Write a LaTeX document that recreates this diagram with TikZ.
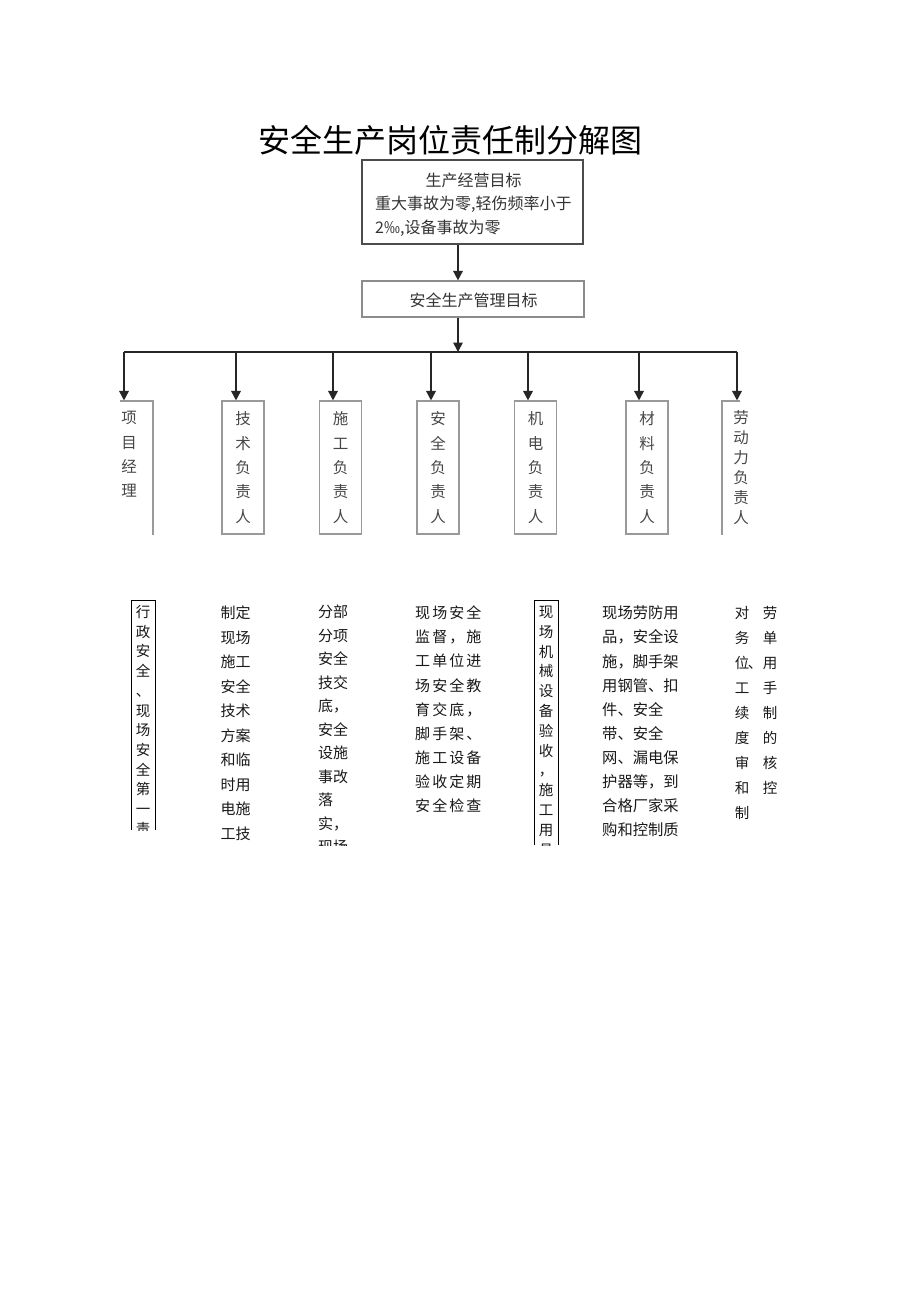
\documentclass[tikz,border=0pt]{standalone}
\usepackage{fontspec}
\newfontfamily\cjk{Noto Sans CJK SC}
\newfontfamily\cjkw[LetterSpace=14]{Noto Sans CJK SC}
\usetikzlibrary{arrows.meta}
\begin{document}
\begin{tikzpicture}[x=1pt,y=-1pt,
  arr/.style={-{Triangle[width=9.5pt,length=9.5pt]}, line width=1.6pt, draw=black!85},
  busline/.style={line width=1.6pt, draw=black!85},
  topbox/.style={draw=black!70, line width=1.4pt, minimum width=221pt, minimum height=84pt, inner sep=0pt},
  midbox/.style={draw=black!45, line width=1.2pt, minimum width=222pt, minimum height=36pt, inner sep=0pt},
  rbox/.style={draw=black!40, line width=1.1pt, minimum width=42pt, minimum height=133pt, inner sep=0pt, align=center,
     font=\cjk\fontsize{15.5}{24.3}\selectfont, text=black!72},
  gline/.style={draw=black!40, line width=1.1pt},
  tline/.style={draw=black, line width=0.8pt},
  rtext/.style={inner sep=0pt, font=\cjk\fontsize{15.5}{15.5}\selectfont, text=black!72},
  btext/.style={inner sep=0pt, font=\cjk\fontsize{15}{15}\selectfont, text=black!90},
  vtext/.style={inner sep=0pt, font=\cjk\fontsize{14.5}{14.5}\selectfont, text=black!90},
  boxtext/.style={inner sep=0pt, font=\cjk\fontsize{16}{16}\selectfont, text=black!80}
]
\useasboundingbox (0,0) rectangle (920,1301);
\fill[white] (0,0) rectangle (920,1301);

% title
\node[inner sep=0pt, font=\cjk\fontsize{32}{32}\selectfont, anchor=base] (title) at (450,152.2) {安全生产岗位责任制分解图};

% top boxes
\node[topbox] (top) at (472.5,202) {};
\node[boxtext, anchor=base] (top1) at (473.5,186) {生产经营目标};
\node[boxtext, anchor=base west] (top2) at (375,209) {重大事故为零,轻伤频率小于};
\node[boxtext, anchor=base west] (top3) at (375,233) {2‰,设备事故为零};

\node[midbox] (mid) at (473,299) {};
\node[boxtext, anchor=base] (midt) at (473.5,306) {安全生产管理目标};

\coordinate (ax) at (458,0);
\draw[arr] (top.south -| ax) -- (mid.north -| ax);

% bus
\coordinate (busL) at (124,352);
\coordinate (busR) at (737,352);
\draw[arr] (mid.south -| ax) -- (ax |- busL);
\draw[busline] (busL) -- (busR);

% second row boxes
\node[rbox] (b2) at (243,467.5) {技\\术\\负\\责\\人};
\node[rbox] (b3) at (340.5,467.5) {施\\工\\负\\责\\人};
\node[rbox] (b4) at (438,467.5) {安\\全\\负\\责\\人};
\node[rbox] (b5) at (535.5,467.5) {机\\电\\负\\责\\人};
\node[rbox] (b6) at (647,467.5) {材\\料\\负\\责\\人};

% partial boxes
\draw[gline] (120,401) -- (153,401) -- (153,535);
\draw[gline] (740,401) -- (722,401) -- (722,535);
\foreach \t [count=\i from 0] in {项,目,经,理}
  \node[rtext, anchor=base] (pm\i) at (129,{418+5.9+24.3*\i}) {\t};
\foreach \t [count=\i from 0] in {劳,动,力,负,责,人}
  \node[rtext, anchor=base] (lb\i) at (741,{418+5.9+20*\i}) {\t};

% down arrows
\foreach \x [count=\i] in {124,236,333,431,528,639,737} {
  \coordinate (tap\i) at (\x,352);
  \draw[arr] (tap\i) -- (tap\i |- b2.north);
}

% bottom row
\draw[tline] (131,830) -- (131,600) -- (155,600) -- (155,830);
\draw[tline] (534,845) -- (534,600) -- (558,600) -- (558,845);

\begin{scope}
\clip (131,600) rectangle (155,830);
\foreach \t [count=\i from 0] in {行,政,安,全,、,现,场,安,全,第,一,责}
  \node[vtext, anchor=base] (c1-\i) at (143,{612+5.5+19.7*\i}) {\t};
\end{scope}

\begin{scope}
\clip (0,590) rectangle (920,845);
\foreach \t [count=\i from 0] in {制定,现场,施工,安全,技术,方案,和临,时用,电施,工技}
  \node[btext, anchor=base west] (c2-\i) at (220.5,{613+5.7+24.5*\i}) {\t};
\foreach \t [count=\i from 0] in {分部,分项,安全,技交,底，,安全,设施,事改,落,实，,现场}
  \node[btext, anchor=base west] (c3-\i) at (318,{612+5.7+23.5*\i}) {\t};
\foreach \t [count=\i from 0] in {现场安全,监督，施,工单位进,场安全教,育交底，,脚手架、,施工设备,验收定期,安全检查}
  \node[btext, font=\cjkw\fontsize{15}{15}\selectfont, anchor=base west] (c4-\i) at (415,{613+5.7+24.1*\i}) {\t};
\foreach \t [count=\i from 0] in {现,场,机,械,设,备,验,收,，,施,工,用,具}
  \node[vtext, anchor=base] (c5-\i) at (546,{612+5.5+19.8*\i}) {\t};
\foreach \t [count=\i from 0] in {现场劳防用,品，安全设,施，脚手架,用钢管、扣,件、安全,带、安全,网、漏电保,护器等，到,合格厂家采,购和控制质}
  \node[btext, font=\cjk\fontsize{15.3}{15.3}\selectfont, anchor=base west] (c6-\i) at (602,{613+5.8+24.1*\i}) {\t};
\foreach \t [count=\i from 0] in {对,务,位,工,续,度,审,和,制}
  \node[vtext, anchor=base] (c7a-\i) at (742,{613+5.5+25*\i}) {\t};
\foreach \t [count=\i from 0] in {劳,单,用,手,制,的,核,控}
  \node[vtext, anchor=base] (c7b-\i) at (770,{613+5.5+25*\i}) {\t};
\node[vtext, anchor=base] (c7c) at (755,{663+5.5}) {、};
\end{scope}
\end{tikzpicture}
\end{document}
